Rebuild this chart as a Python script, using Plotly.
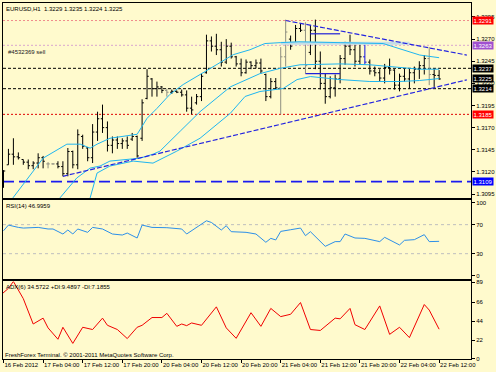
import plotly.graph_objects as go

# ---------------- data ----------------
bar_index = list(range(89))
open_ = [1.3104, 1.3128, 1.3140, 1.3137, 1.3134, 1.3131, 1.3127, 1.3130, 1.3136, 1.3129,
         1.3129, 1.3129, 1.3126, 1.3118, 1.3143, 1.3128, 1.3160, 1.3147, 1.3136, 1.3165,
         1.3180, 1.3170, 1.3150, 1.3156, 1.3152, 1.3155, 1.3157, 1.3160, 1.3158, 1.3203,
         1.3225, 1.3214, 1.3216, 1.3212, 1.3210, 1.3211, 1.3210, 1.3207, 1.3192, 1.3198,
         1.3205, 1.3232, 1.3268, 1.3262, 1.3258, 1.3244, 1.3262, 1.3250, 1.3242, 1.3232,
         1.3244, 1.3240, 1.3243, 1.3230, 1.3205, 1.3222, 1.3215, 1.3250, 1.3270, 1.3266,
         1.3282, 1.3280, 1.3255, 1.3280, 1.3245, 1.3220, 1.3205, 1.3215, 1.3225, 1.3248,
         1.3262, 1.3258, 1.3245, 1.3250, 1.3244, 1.3234, 1.3232, 1.3226, 1.3238, 1.3235,
         1.3218, 1.3228, 1.3225, 1.3232, 1.3236, 1.3240, 1.3248, 1.3230, 1.3229]
high = [1.3122, 1.3146, 1.3158, 1.3142, 1.3134, 1.3134, 1.3132, 1.3141, 1.3138, 1.3131,
        1.3130, 1.3132, 1.3132, 1.3147, 1.3144, 1.3168, 1.3162, 1.3148, 1.3174, 1.3188,
        1.3196, 1.3177, 1.3160, 1.3160, 1.3158, 1.3160, 1.3164, 1.3161, 1.3202, 1.3236,
        1.3226, 1.3222, 1.3217, 1.3214, 1.3213, 1.3212, 1.3213, 1.3212, 1.3205, 1.3208,
        1.3231, 1.3275, 1.3273, 1.3276, 1.3267, 1.3270, 1.3266, 1.3251, 1.3248, 1.3247,
        1.3245, 1.3247, 1.3248, 1.3231, 1.3226, 1.3226, 1.3261, 1.3292, 1.3274, 1.3286,
        1.3287, 1.3289, 1.3286, 1.3292, 1.3256, 1.3231, 1.3228, 1.3230, 1.3252, 1.3267,
        1.3275, 1.3264, 1.3264, 1.3264, 1.3247, 1.3239, 1.3236, 1.3242, 1.3248, 1.3236,
        1.3231, 1.3237, 1.3237, 1.3239, 1.3245, 1.3252, 1.3261, 1.3237, 1.3235]
low = [1.3102, 1.3128, 1.3128, 1.3134, 1.3128, 1.3123, 1.3123, 1.3124, 1.3124, 1.3124,
       1.3128, 1.3124, 1.3115, 1.3115, 1.3124, 1.3123, 1.3146, 1.3132, 1.3130, 1.3155,
       1.3164, 1.3143, 1.3141, 1.3146, 1.3146, 1.3146, 1.3155, 1.3136, 1.3155, 1.3202,
       1.3205, 1.3205, 1.3209, 1.3205, 1.3208, 1.3209, 1.3205, 1.3188, 1.3185, 1.3196,
       1.3200, 1.3231, 1.3256, 1.3252, 1.3239, 1.3242, 1.3248, 1.3239, 1.3228, 1.3231,
       1.3236, 1.3237, 1.3231, 1.3200, 1.3203, 1.3213, 1.3185, 1.3239, 1.3258, 1.3265,
       1.3278, 1.3231, 1.3252, 1.3236, 1.3213, 1.3197, 1.3203, 1.3205, 1.3220, 1.3241,
       1.3252, 1.3239, 1.3241, 1.3241, 1.3230, 1.3228, 1.3222, 1.3220, 1.3230, 1.3213,
       1.3211, 1.3222, 1.3214, 1.3220, 1.3225, 1.3230, 1.3218, 1.3216, 1.3224]
close = [1.3121, 1.3140, 1.3137, 1.3136, 1.3131, 1.3127, 1.3130, 1.3136, 1.3132, 1.3129,
         1.3129, 1.3126, 1.3118, 1.3143, 1.3128, 1.3162, 1.3149, 1.3136, 1.3165, 1.3180,
         1.3170, 1.3150, 1.3156, 1.3152, 1.3155, 1.3150, 1.3160, 1.3138, 1.3198, 1.3228,
         1.3214, 1.3216, 1.3212, 1.3210, 1.3211, 1.3210, 1.3207, 1.3192, 1.3190, 1.3205,
         1.3228, 1.3268, 1.3262, 1.3258, 1.3244, 1.3262, 1.3250, 1.3242, 1.3232, 1.3244,
         1.3240, 1.3243, 1.3234, 1.3205, 1.3222, 1.3215, 1.3250, 1.3278, 1.3262, 1.3282,
         1.3280, 1.3240, 1.3280, 1.3245, 1.3220, 1.3205, 1.3215, 1.3225, 1.3248, 1.3262,
         1.3258, 1.3245, 1.3250, 1.3244, 1.3234, 1.3232, 1.3226, 1.3238, 1.3235, 1.3218,
         1.3228, 1.3225, 1.3232, 1.3236, 1.3240, 1.3248, 1.3230, 1.3229, 1.3225]
gray_bars = [9, 10, 33, 56, 57, 61, 86]
blue_bars = [73]

# three moving-average style curves (bar position, price)
ma_fast_x = [1.9, 8, 12.8, 15.5, 17.5, 18.9, 21.5, 26.2, 27, 29, 31, 33.6, 36.3, 40.7, 43.1,
             46.4, 49.8, 52.8, 55.9, 59.7, 68, 76.7, 80.1, 84.1, 88]
ma_fast_y = [1.30906, 1.31355, 1.31513, 1.31513, 1.31468, 1.31513, 1.31580, 1.31625, 1.31625,
             1.31805, 1.31917, 1.32075, 1.32187, 1.32333, 1.32412, 1.32524, 1.3258, 1.3265,
             1.3266, 1.3267, 1.3266, 1.3265, 1.3259, 1.3252, 1.3249]
ma_mid_x = [11.4, 14.8, 17.5, 19.5, 21.5, 26.2, 27.6, 30.2, 31.6, 35.7, 39.7, 45.8, 51.8,
            55.9, 59.9, 68, 74, 80.1, 84.1, 88]
ma_mid_y = [1.30906, 1.31131, 1.31243, 1.31266, 1.31322, 1.31344, 1.31355, 1.3140, 1.31434,
            1.3166, 1.3188, 1.3216, 1.3231, 1.3237, 1.3241, 1.3242, 1.3241, 1.3238, 1.3236, 1.3236]
ma_slow_x = [17.5, 18.9, 21.5, 26.2, 30.2, 35, 39.7, 42.7, 45.8, 48.8, 51.8, 56.5, 59.3, 62,
             68, 74, 80, 84, 88]
ma_slow_y = [1.30906, 1.31187, 1.31266, 1.31322, 1.31299, 1.31434, 1.3158, 1.31715, 1.31861,
             1.32052, 1.32108, 1.32142, 1.32243, 1.32277, 1.32243, 1.32221, 1.32221, 1.32232,
             1.32254]
pale_x = [56, 82]
pale_y = [1.32652, 1.32652]

trend_low_x = [12, 93.6]
trend_low_y = [1.3115, 1.3224]
trend_up_x = [57, 93.6]
trend_up_y = [1.3291, 1.3252]
seg_top_x = [62, 68]
seg_top_y = [1.3276, 1.3276]
seg_bot_x = [61, 68]
seg_bot_y = [1.3231, 1.3231]

# horizontal price levels
level_sl = 1.3291
level_order = 1.3263
level_res = 1.3237
level_bid = 1.3225
level_sup = 1.3214
level_tp = 1.3185
level_low = 1.3109

price_ticks = [1.3095, 1.3120, 1.3145, 1.3170, 1.3195, 1.3220, 1.3245, 1.3270, 1.3295]
price_tick_labels = ["1.3095", "1.3120", "1.3145", "1.3170", "1.3195", "1.3220", "1.3245",
                     "1.3270", "1.3295"]

time_tick_bars = [0, 8, 16, 24, 32, 40, 48, 56, 64, 72, 80, 88]
time_tick_labels = ["16 Feb 2012", "17 Feb 04:00", "17 Feb 12:00", "17 Feb 20:00",
                    "20 Feb 04:00", "20 Feb 12:00", "20 Feb 20:00", "21 Feb 04:00",
                    "21 Feb 12:00", "21 Feb 20:00", "22 Feb 04:00", "22 Feb 12:00"]

rsi_x = [0, 1, 3, 4, 7, 9, 10, 12, 13, 14, 15, 17, 18, 20, 22, 24, 25, 27, 28, 30, 33, 36,
         37, 39, 41, 42, 44, 45, 46, 49, 51, 53, 54, 55, 56, 58, 60, 61, 62, 65, 67, 68, 69,
         71, 73, 76, 77, 80, 81, 83, 85, 86, 88]
rsi_y = [61.6, 69.4, 66.2, 65.3, 66.2, 64.0, 64.0, 57.1, 62.6, 57.1, 64.0, 59.4, 66.2, 64.0,
         57.1, 55.7, 58.4, 51.6, 69.4, 66.2, 65.8, 64.0, 57.1, 66.2, 75.3, 73.0, 62.6, 68.5,
         60.3, 59.4, 57.1, 45.7, 51.1, 48.9, 60.7, 63.0, 65.3, 54.8, 60.3, 40.1, 46.6, 46.6,
         57.1, 51.6, 51.1, 46.6, 52.5, 42.0, 48.4, 49.3, 56.2, 46.6, 47.0]
rsi_levels = [30, 70]

adx_x = [-1, 1, 2, 4, 6, 8, 9, 11, 12, 14, 16, 18, 20, 21, 23, 25, 27, 28, 30, 32, 33, 35,
         36, 37, 38, 40, 43, 45, 47, 50, 52, 54, 56, 58, 60, 62, 64, 65, 67, 68, 70, 71, 73,
         76, 78, 80, 82, 85, 86, 88]
adx_y = [72, 82, 90, 70, 40.6, 47.4, 36.1, 22.9, 36.8, 18.1, 36.8, 34.2, 47.4, 39.1, 34.2,
         23.7, 36.8, 39.1, 48.1, 48.1, 53.0, 37.9, 40.6, 38.7, 41.8, 39.1, 60.5, 36.1, 24.0,
         53.7, 37.9, 58.7, 49.2, 51.9, 65.5, 34.2, 33.1, 37.9, 47.4, 46.6, 58.7, 39.8, 34.2,
         61.6, 28.6, 36.8, 24.8, 63.2, 56.8, 34.57]

# ---------------- layout helpers ----------------
W, H = 496, 372
ML, MR, MT, MB = 3, 25, 1, 13
PW, PH = W - ML - MR, H - MT - MB
BG = "#FFFACD"
FONT = "Liberation Sans"


def px_x(px):
    return (px - ML) / PW


def px_y(py):
    return (H - MB - py) / PH


fig = go.Figure()


def ohlc(idx, color):
    fig.add_trace(go.Ohlc(
        x=[bar_index[i] for i in idx], open=[open_[i] for i in idx],
        high=[high[i] for i in idx], low=[low[i] for i in idx],
        close=[close[i] for i in idx], xaxis="x", yaxis="y", tickwidth=0.35,
        increasing=dict(line=dict(color=color, width=1)),
        decreasing=dict(line=dict(color=color, width=1)),
        showlegend=False, hoverinfo="skip"))


normal = [i for i in bar_index if i not in gray_bars and i not in blue_bars]
ohlc(normal, "#000000")
ohlc(gray_bars, "#8F8F80")
ohlc(blue_bars, "#1010E0")


def line(x, y, color, width=1, dash="solid", xa="x", ya="y"):
    fig.add_trace(go.Scatter(x=x, y=y, mode="lines", xaxis=xa, yaxis=ya,
                             line=dict(color=color, width=width, dash=dash),
                             showlegend=False, hoverinfo="skip"))


line(pale_x, pale_y, "#C4DDE6", 3)
line(ma_fast_x, ma_fast_y, "#1FB6F0")
line(ma_mid_x, ma_mid_y, "#1FB6F0")
line(ma_slow_x, ma_slow_y, "#1FB6F0")
line(trend_low_x, trend_low_y, "#2424E0", 1.2, "5px,2px")
line(trend_up_x, trend_up_y, "#2424E0", 1.2, "5px,2px")
line(seg_top_x, seg_top_y, "#2020D8", 1.2)
line(seg_bot_x, seg_bot_y, "#2020D8", 1.2)
line(rsi_x, rsi_y, "#2C8FE8", 1, xa="x2", ya="y2")
line(adx_x, adx_y, "#F00000", 1, xa="x3", ya="y3")

shapes = []


def hline(y, color, dash, width=1, yref="y"):
    shapes.append(dict(type="line", xref="paper", x0=0, x1=1, yref=yref, y0=y, y1=y,
                       line=dict(color=color, width=width, dash=dash), layer="below"))


hline(level_sl, "#F08C8C", "2px,2px")
hline(level_order, "#D9A6CF", "2px,2px")
hline(level_res, "#000000", "3px,2px")
hline(level_sup, "#000000", "3px,2px")
hline(level_tp, "#E00000", "2px,2px")
hline(level_low, "#1A1AF0", "11px,5px", 1.6)
for lv in rsi_levels:
    hline(lv, "#BEBEBE", "3px,3px", 1, "y2")

tick_font = dict(family=FONT, size=6, color="#000000")
axis_common = dict(showgrid=False, zeroline=False, showline=True, mirror=True,
                   linecolor="#000000", linewidth=1)

fig.update_layout(
    width=W, height=H, margin=dict(l=ML, r=MR, t=MT, b=MB),
    paper_bgcolor=BG, plot_bgcolor=BG, showlegend=False,
    font=dict(family=FONT, size=6, color="#000000"),
    xaxis=dict(domain=[0, 1], anchor="y", range=[-0.1, 94.44], showticklabels=False,
               ticks="", rangeslider=dict(visible=False), **axis_common),
    xaxis2=dict(domain=[0, 1], anchor="y2", matches="x", showticklabels=False, ticks="",
                **axis_common),
    xaxis3=dict(domain=[0, 1], anchor="y3", matches="x", tickvals=time_tick_bars,
                ticktext=time_tick_labels, ticks="outside", ticklen=3, tickcolor="#000000",
                tickangle=0, ticklabelposition="outside right", tickfont=tick_font,
                **axis_common),
    yaxis=dict(domain=[0.4525, 1], anchor="x", side="right", range=[1.30906, 1.33108],
               tickvals=price_ticks, ticktext=price_tick_labels, ticks="outside", ticklen=3,
               tickcolor="#000000", tickfont=tick_font, **axis_common),
    yaxis2=dict(domain=[0.2235, 0.4455], anchor="x2", side="right", range=[-5.5, 103.4],
                tickvals=[0, 30, 70, 100], ticks="outside", ticklen=3, tickcolor="#000000",
                tickfont=tick_font, **axis_common),
    yaxis3=dict(domain=[0, 0.2179], anchor="x3", side="right", range=[0, 90],
                tickvals=[0, 22, 44, 66, 89], ticks="outside", ticklen=3, tickcolor="#000000",
                tickfont=tick_font, **axis_common),
    shapes=shapes,
)

annotations = []


def text(px, py, s, size=6, color="#000000"):
    annotations.append(dict(xref="paper", yref="paper", x=px_x(px), y=px_y(py), text=s,
                            showarrow=False, xanchor="left", yanchor="middle",
                            font=dict(family=FONT, size=size, color=color)))


text(4, 7, "EURUSD,H1  1.3229 1.3235 1.3224 1.3225")
text(6, 50, "#4532369 sell", color="#202020")
text(4, 205, "RSI(14) 46.9959")
text(4, 287, "ADX(6) 34.5722 +DI:9.4897 -DI:7.1855")
text(3, 355, "FreshForex Terminal. © 2001-2011 MetaQuotes Software Corp.")


def price_box(level, bg):
    annotations.append(dict(xref="paper", yref="y", x=1, y=level, xanchor="left",
                            yanchor="middle", xshift=1, text=f"{level:.4f}", showarrow=False,
                            bgcolor=bg, borderpad=0.5,
                            font=dict(family=FONT, size=6, color="#FFFFFF")))


price_box(level_sl, "#FF0000")
price_box(level_order, "#A050D0")
price_box(level_res, "#000000")
price_box(level_bid, "#000000")
price_box(level_sup, "#000000")
price_box(level_tp, "#FF0000")
price_box(level_low, "#0000FF")

fig.update_layout(annotations=annotations)
fig.write_html("out.html", config={"displayModeBar": False},
               post_script="document.body.style.margin='0';document.body.style.overflow='hidden';")
